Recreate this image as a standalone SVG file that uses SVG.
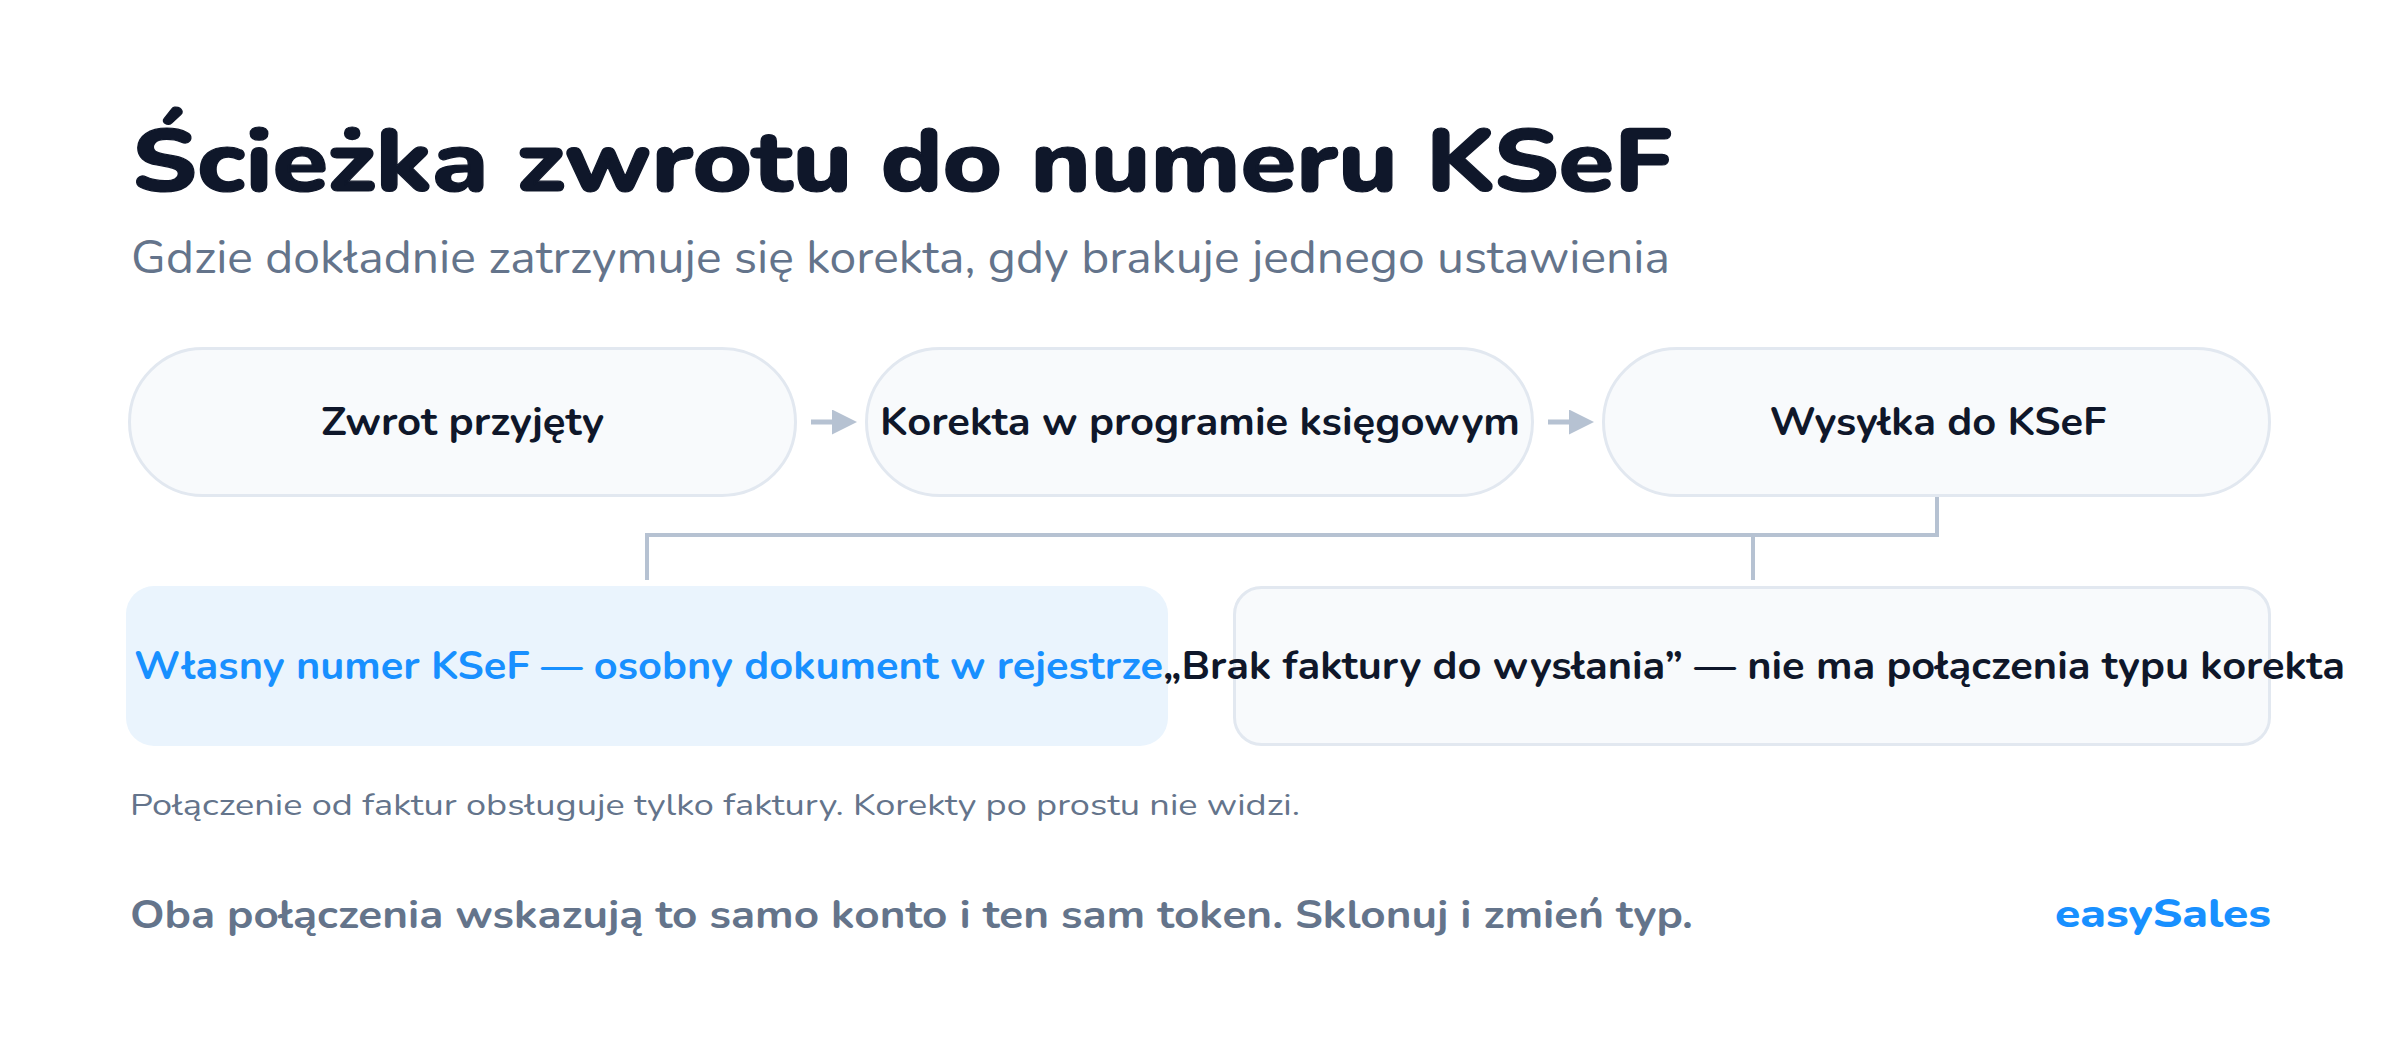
<svg xmlns="http://www.w3.org/2000/svg" width="2400" height="1042" viewBox="0 0 2400 1042">
<defs>
<style>
text{font-family:"Nunito","Noto Sans","Open Sans",sans-serif;}
.title{font-size:88px;font-weight:800;fill:#0f172a;stroke:#0f172a;stroke-width:1.2px;stroke-linejoin:round;}
.sub{font-size:46px;font-weight:400;fill:#64748b;}
.node{fill:#f8fafc;stroke:#e2e8f0;stroke-width:3;}
.hl{fill:#eaf4fd;}
.lbl{font-size:40px;font-weight:700;fill:#0f172a;text-anchor:middle;}
.blue{fill:#1890ff;}
.note{font-size:31px;font-weight:400;fill:#64748b;}
.foot{font-size:40px;font-weight:700;fill:#64748b;}
.brand{font-size:40px;font-weight:800;fill:#1890ff;text-anchor:end;}
.arrow{stroke:#b6c2d2;stroke-width:5;fill:none;}
.conn{stroke:#b6c2d2;stroke-width:4;fill:none;}
</style>
<marker id="ah" markerUnits="userSpaceOnUse" markerWidth="25" markerHeight="25" refX="13" refY="12.5" orient="auto">
<path d="M0,0 L25,12.5 L0,25 Z" fill="#b6c2d2"/>
</marker>
</defs>
<rect width="2400" height="1042" fill="#ffffff"/>
<g id="header">
<text class="title" x="132" y="191" textLength="1540" lengthAdjust="spacingAndGlyphs">Ścieżka zwrotu do numeru KSeF</text>
<text class="sub" x="131" y="273" textLength="1539" lengthAdjust="spacingAndGlyphs">Gdzie dokładnie zatrzymuje się korekta, gdy brakuje jednego ustawienia</text>
</g>
<g id="connectors">
<line class="arrow" x1="811" y1="422" x2="845" y2="422" marker-end="url(#ah)"/>
<line class="arrow" x1="1548" y1="422" x2="1582" y2="422" marker-end="url(#ah)"/>
<path class="conn" d="M1937,497 V535 H647 V580"/>
<path class="conn" d="M1753,535 V580"/>
</g>
<g id="node-zwrot">
<rect class="node" x="129.5" y="348.5" width="666" height="147" rx="73.5"/>
<text class="lbl" x="462.5" y="435" textLength="283" lengthAdjust="spacingAndGlyphs">Zwrot przyjęty</text>
</g>
<g id="node-korekta">
<rect class="node" x="866.5" y="348.5" width="666" height="147" rx="73.5"/>
<text class="lbl" x="1200" y="435" textLength="640" lengthAdjust="spacingAndGlyphs">Korekta w programie księgowym</text>
</g>
<g id="node-wysylka">
<rect class="node" x="1603.5" y="348.5" width="666" height="147" rx="73.5"/>
<text class="lbl" x="1938" y="435" textLength="337" lengthAdjust="spacingAndGlyphs">Wysyłka do KSeF</text>
</g>
<g id="node-wlasny">
<rect class="hl" x="126" y="586" width="1042" height="160" rx="28"/>
<text class="lbl blue" x="648.5" y="679" textLength="1029" lengthAdjust="spacingAndGlyphs">Własny numer KSeF — osobny dokument w rejestrze</text>
</g>
<g id="node-brak">
<rect class="node" x="1234.5" y="587.5" width="1035" height="157" rx="27"/>
<text class="lbl" x="1754" y="679" textLength="1182" lengthAdjust="spacingAndGlyphs">„Brak faktury do wysłania” — nie ma połączenia typu korekta</text>
</g>
<g id="footer">
<text class="note" x="130" y="815" textLength="1170" lengthAdjust="spacingAndGlyphs">Połączenie od faktur obsługuje tylko faktury. Korekty po prostu nie widzi.</text>
<text class="foot" x="130" y="928" textLength="1563" lengthAdjust="spacingAndGlyphs">Oba połączenia wskazują to samo konto i ten sam token. Sklonuj i zmień typ.</text>
<text class="brand" x="2271" y="927" textLength="216" lengthAdjust="spacingAndGlyphs">easySales</text>
</g>
</svg>
